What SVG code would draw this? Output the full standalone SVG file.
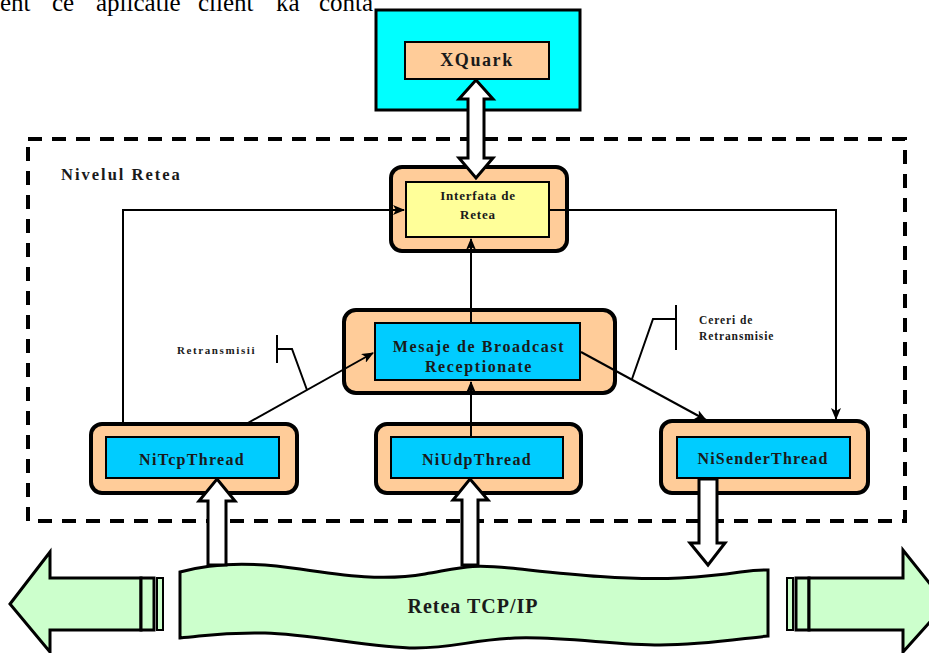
<svg xmlns="http://www.w3.org/2000/svg" width="929" height="653" viewBox="0 0 929 653">
<style>
.t{font-family:"Liberation Serif","Times New Roman",serif;font-weight:bold;fill:#1a1a1a}
.outer{fill:#FFCC99;stroke:#000;stroke-width:4}
.inner{stroke:#000;stroke-width:2}
.con{fill:none;stroke:#000;stroke-width:2}
.hollow{fill:#fff;stroke:#000;stroke-width:3;stroke-linejoin:miter}
.green{fill:#CCFFCC;stroke:#000;stroke-width:3}
</style>
<defs>
<marker id="ah" viewBox="0 0 12 10" refX="11" refY="5" markerWidth="12" markerHeight="10" markerUnits="userSpaceOnUse" orient="auto">
<path d="M0,0 L12,5 L0,10 L3,5 z" fill="#000"/>
</marker>
</defs>
<rect width="929" height="653" fill="#fff"/>
<text style="font-family:'Liberation Serif','Times New Roman',serif;font-size:25px;fill:#000" y="11"><tspan x="0">ent</tspan><tspan x="52">ce</tspan><tspan x="96">aplicatie</tspan><tspan x="198">client</tspan><tspan x="276">ka</tspan><tspan x="319">conta</tspan></text>

<g id="nivel">
<rect x="28" y="139" width="877" height="382" fill="none" stroke="#000" stroke-width="4" stroke-dasharray="14 10"/>
<text class="t" x="61" y="180" font-size="16.5" letter-spacing="2">Nivelul Retea</text>
</g>

<g id="xquark">
<rect x="376" y="10" width="204" height="100" fill="#00FFFF" stroke="#000" stroke-width="3"/>
<rect x="405" y="42" width="144" height="37" fill="#FFCC99" class="inner"/>
<text class="t" x="477" y="66" font-size="18" letter-spacing="1.6" text-anchor="middle">XQuark</text>
</g>

<g id="interfata">
<rect x="391" y="167" width="176" height="84" rx="11" class="outer"/>
<rect x="406" y="182" width="143" height="55" fill="#FFFF99" class="inner"/>
<text class="t" x="478" y="200" font-size="13" letter-spacing="0.8" text-anchor="middle">Interfata de</text>
<text class="t" x="478" y="219" font-size="13" letter-spacing="0.8" text-anchor="middle">Retea</text>
</g>

<g id="mesaje">
<rect x="344" y="310" width="271" height="83" rx="12" class="outer"/>
<rect x="375" y="323" width="205" height="57" fill="#00CCFF" class="inner"/>
<text class="t" x="479" y="352" font-size="16" letter-spacing="1.6" text-anchor="middle">Mesaje de Broadcast</text>
<text class="t" x="479" y="372" font-size="16" letter-spacing="1.6" text-anchor="middle">Receptionate</text>
</g>

<g id="nitcp">
<rect x="91" y="424" width="206" height="69" rx="11" class="outer"/>
<rect x="106" y="437" width="173" height="41" fill="#00CCFF" class="inner"/>
<text class="t" x="192" y="465" font-size="16" letter-spacing="1.3" text-anchor="middle">NiTcpThread</text>
</g>

<g id="niudp">
<rect x="376" y="424" width="205" height="69" rx="11" class="outer"/>
<rect x="391" y="437" width="172" height="41" fill="#00CCFF" class="inner"/>
<text class="t" x="477" y="465" font-size="16" letter-spacing="1.3" text-anchor="middle">NiUdpThread</text>
</g>

<g id="nisender">
<rect x="661" y="421" width="207" height="72" rx="11" class="outer"/>
<rect x="677" y="437" width="173" height="41" fill="#00CCFF" class="inner"/>
<text class="t" x="763" y="464" font-size="16" letter-spacing="1.2" text-anchor="middle">NiSenderThread</text>
</g>

<g id="retea">
<path class="green" d="M180,572 C215,562 255,562 300,569 S385,581 425,574 S470,564 510,568 S620,581 680,578 S745,569 768,570 L768,636 C745,638 705,645 660,645 S560,636 515,638 S455,648 415,648 S310,634 265,633 S205,636 180,638 Z"/>
<text class="t" x="473" y="613" font-size="20" letter-spacing="1" text-anchor="middle">Retea TCP/IP</text>
</g>

<g id="left-arrow">
<path class="green" d="M10,604 L50,552 L50,578 L141,578 L141,630 L50,630 L50,652 Z"/>
<rect x="141" y="578" width="13" height="52" fill="#CCFFCC" stroke="#000" stroke-width="3"/>
<rect x="157" y="578" width="6" height="52" fill="#CCFFCC" stroke="#000" stroke-width="2"/>
</g>

<g id="right-arrow">
<rect x="787" y="578" width="6" height="52" fill="#CCFFCC" stroke="#000" stroke-width="2"/>
<rect x="796" y="578" width="13" height="52" fill="#CCFFCC" stroke="#000" stroke-width="3"/>
<path class="green" d="M809,578 L903,578 L903,550 L946,604 L903,652 L903,630 L809,630 Z"/>
</g>

<g id="connectors">
<path class="hollow" d="M476,80 L493,99 L484,99 L484,158 L493,158 L476,178 L459,158 L468,158 L468,99 L459,99 Z"/>
<path class="con" d="M123,424 L123,210 L404,210" marker-end="url(#ah)"/>
<path class="con" d="M549,210 L836,210 L836,419" marker-end="url(#ah)"/>
<path class="con" d="M471,323 L471,239" marker-end="url(#ah)"/>
<path class="con" d="M471,437 L471,382" marker-end="url(#ah)"/>
<path class="con" d="M246,424 L373,353" marker-end="url(#ah)"/>
<path class="con" d="M581,352 L706,420" marker-end="url(#ah)"/>
<path class="hollow" d="M217,479 L235,501 L226,501 L226,565 L208,565 L208,501 L199,501 Z"/>
<path class="hollow" d="M470,479 L488,500 L478,500 L478,565 L462,565 L462,500 L453,500 Z"/>
<path class="hollow" d="M699,479 L717,479 L717,543 L725,543 L708,565 L690,543 L699,543 Z"/>
<path class="con" d="M277,335 L277,363 M277,349 L292,349 L307,390"/>
<path class="con" d="M676,305 L676,350 M676,319 L653,319 L632,379"/>
<text class="t" x="177" y="354" font-size="11" letter-spacing="1.6">Retransmisii</text>
<text class="t" x="699" y="324" font-size="11.5" letter-spacing="0.9">Cereri de</text>
<text class="t" x="699" y="340" font-size="11.5" letter-spacing="0.9">Retransmisie</text>
</g>
</svg>
